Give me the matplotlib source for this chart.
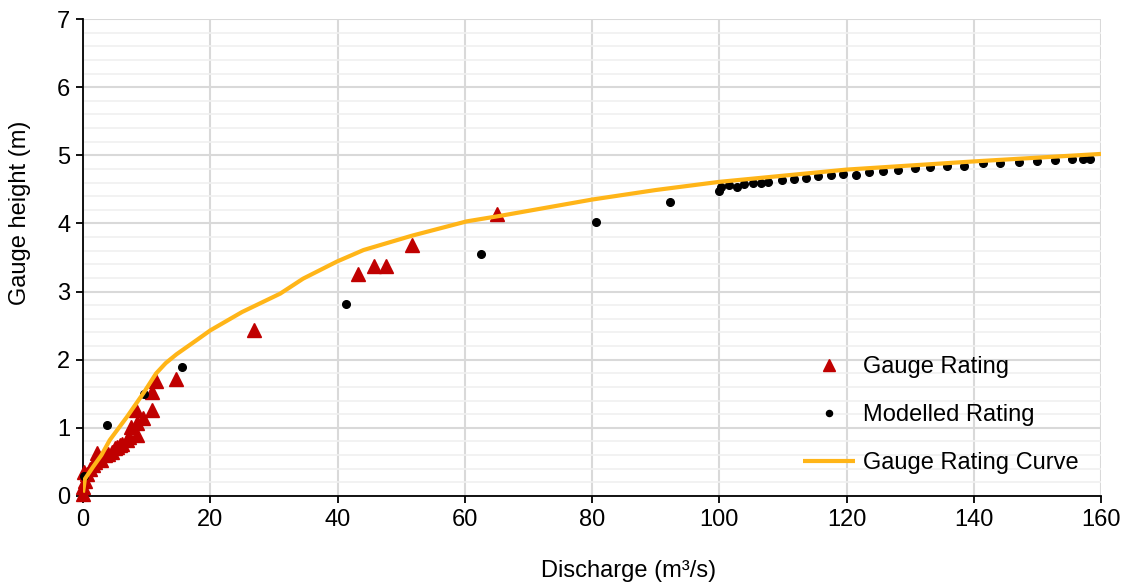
import matplotlib
matplotlib.use("Agg")
import matplotlib.pyplot as plt
from matplotlib.ticker import MultipleLocator

plt.rcParams['font.family'] = ['Liberation Sans', 'DejaVu Sans']

# Gauge Rating (triangles)
gauge_q = [0.0, 0.05, 0.3, 0.2, 0.6, 1.1, 1.6, 1.9, 2.2, 2.9, 3.5, 4.0, 4.5, 5.0, 5.3, 5.8, 6.1,
           6.9, 7.3, 8.5, 7.6, 8.5, 9.5, 8.4, 10.8, 10.9, 11.5, 14.6, 26.9, 43.2, 45.8,
           47.7, 51.7, 65.0]
gauge_h = [0.03, 0.13, 0.22, 0.35, 0.32, 0.40, 0.46, 0.50, 0.63, 0.53, 0.60, 0.62, 0.65, 0.70, 0.72, 0.75, 0.77,
           0.82, 0.87, 0.90, 1.01, 1.07, 1.14, 1.26, 1.26, 1.52, 1.69, 1.71, 2.44, 3.26, 3.37,
           3.37, 3.69, 4.14]

# Modelled Rating (dots)
model_q = [0.1, 3.7, 9.6, 15.5, 41.3, 62.6, 80.7, 92.2,
           100.0, 100.3, 101.5, 102.8, 103.9, 105.3, 106.6, 107.7, 109.9, 111.8, 113.6,
           115.5, 117.5, 119.5, 121.5, 123.6, 125.7, 128.1, 130.7, 133.2, 135.8, 138.4,
           141.4, 144.2, 147.1, 149.9, 152.8, 155.5, 157.1, 158.2]
model_h = [0.30, 1.04, 1.50, 1.89, 2.82, 3.55, 4.02, 4.31,
           4.48, 4.53, 4.56, 4.54, 4.58, 4.59, 4.59, 4.61, 4.64, 4.65, 4.67,
           4.69, 4.71, 4.73, 4.71, 4.75, 4.77, 4.79, 4.81, 4.83, 4.85, 4.85,
           4.88, 4.89, 4.90, 4.92, 4.93, 4.94, 4.94, 4.95]

# Gauge Rating Curve
curve_q = [0.0, 0.3, 1.6, 2.9, 4.2, 6.9, 9.5, 11.5, 13.0, 14.7, 17.9, 20, 25, 31, 34.6,
           39.9, 44.1, 51.7, 60.3, 65.5, 80, 90, 100, 120, 140, 160]
curve_h = [0.05, 0.25, 0.43, 0.60, 0.82, 1.16, 1.51, 1.80, 1.95, 2.08, 2.29, 2.43, 2.70, 2.97, 3.19,
           3.44, 3.61, 3.82, 4.03, 4.11, 4.35, 4.49, 4.61, 4.79, 4.91, 5.02]

FS = 17
W, H = 1128, 587

fig = plt.figure(figsize=(W / 100, H / 100), dpi=100)
ax = fig.add_axes([83/W, 1-496/H, (1101-83)/W, (496-19)/H])

ax.plot(gauge_q, gauge_h, linestyle='none', marker='^', markersize=10,
        color='#C00000', label='Gauge Rating', clip_on=False, zorder=3)
ax.plot(model_q, model_h, linestyle='none', marker='o', markersize=5.5,
        color='black', label='Modelled Rating', clip_on=False, zorder=4)
ax.plot(curve_q, curve_h, color='#FFB518', linewidth=3, label='Gauge Rating Curve',
        zorder=5, solid_capstyle='butt')

ax.set_xlim(0, 160)
ax.set_ylim(0, 7)
ax.xaxis.set_major_locator(MultipleLocator(20))
ax.yaxis.set_major_locator(MultipleLocator(1))
ax.yaxis.set_minor_locator(MultipleLocator(0.2))
ax.grid(which='major', axis='both', color='#D9D9D9', linewidth=1.5, zorder=0)
ax.grid(which='minor', axis='y', color='#F0F0F0', linewidth=1.2, zorder=0)
ax.set_axisbelow(True)
for s in ['top', 'right']:
    ax.spines[s].set_visible(False)
for s in ['left', 'bottom']:
    ax.spines[s].set_linewidth(1.3)
    ax.spines[s].set_color('black')
ax.tick_params(which='major', direction='out', length=5, width=1.3, labelsize=FS, pad=4)
ax.tick_params(which='minor', length=0)

fig.text(629/W, 1-571/H, 'Discharge (m\u00b3/s)', fontsize=FS, ha='center', va='center')
fig.text(20/W, 1-213/H, 'Gauge height (m)', fontsize=FS, ha='center', va='center',
         rotation=90)

leg = ax.legend(loc='upper left', bbox_to_anchor=(803/W, 1-356/H),
                bbox_transform=fig.transFigure, frameon=False, fontsize=FS,
                handlelength=2.2, handletextpad=0.35, labelspacing=1.1,
                borderpad=0, borderaxespad=0, markerscale=0.8)

fig.savefig('out.png', dpi=100)
